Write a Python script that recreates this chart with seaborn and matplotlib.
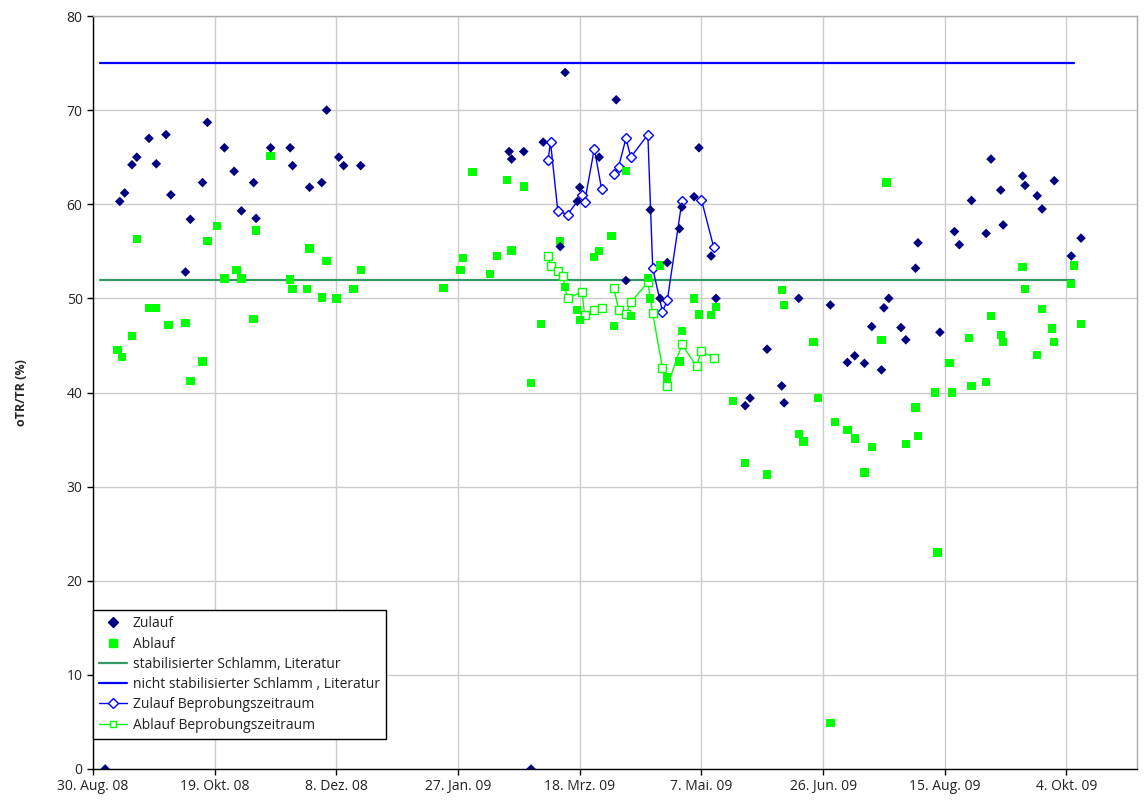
import numpy as np
import pandas as pd
import matplotlib
matplotlib.use("Agg")
import matplotlib.pyplot as plt
import seaborn as sns
from matplotlib.lines import Line2D

# Zulauf (Einzelwerte)
zulauf_dates = [
    "2008-09-04", "2008-09-10", "2008-09-12", "2008-09-15", "2008-09-17", "2008-09-22",
    "2008-09-25", "2008-09-29", "2008-10-01", "2008-10-07", "2008-10-09", "2008-10-14",
    "2008-10-16", "2008-10-23", "2008-10-27", "2008-10-30", "2008-11-04", "2008-11-05",
    "2008-11-11", "2008-11-19", "2008-11-20", "2008-11-27", "2008-12-02", "2008-12-04",
    "2008-12-09", "2008-12-11", "2008-12-18", "2009-02-17", "2009-02-18", "2009-02-23",
    "2009-02-26", "2009-03-03", "2009-03-10", "2009-03-12", "2009-03-17", "2009-03-18",
    "2009-03-26", "2009-04-02", "2009-04-06", "2009-04-16", "2009-04-20", "2009-04-23",
    "2009-04-28", "2009-04-29", "2009-05-04", "2009-05-06", "2009-05-11", "2009-05-13",
    "2009-05-25", "2009-05-27", "2009-06-03", "2009-06-09", "2009-06-10", "2009-06-16",
    "2009-06-29", "2009-07-06", "2009-07-09", "2009-07-13", "2009-07-16", "2009-07-20",
    "2009-07-21", "2009-07-23", "2009-07-28", "2009-07-30", "2009-08-03", "2009-08-04",
    "2009-08-13", "2009-08-19", "2009-08-21", "2009-08-26", "2009-09-01", "2009-09-03",
    "2009-09-07", "2009-09-08", "2009-09-16", "2009-09-17", "2009-09-22", "2009-09-24",
    "2009-09-29", "2009-10-06", "2009-10-10",
]
zulauf_values = [
    0.0, 60.3, 61.2, 64.2, 65.0, 67.0,
    64.3, 67.4, 61.0, 52.8, 58.4, 62.3,
    68.7, 66.0, 63.5, 59.3, 62.3, 58.5,
    66.0, 66.0, 64.1, 61.8, 62.3, 70.0,
    65.0, 64.1, 64.1, 65.6, 64.8, 65.6,
    0.0, 66.6, 55.5, 74.0, 60.3, 61.8,
    65.0, 71.1, 51.9, 59.4, 50.0, 53.8,
    57.4, 59.7, 60.8, 66.0, 54.5, 50.0,
    38.6, 39.4, 44.6, 40.7, 38.9, 50.0,
    49.3, 43.2, 43.9, 43.1, 47.0, 42.4,
    49.0, 50.0, 46.9, 45.6, 53.2, 55.9,
    46.4, 57.1, 55.7, 60.4, 56.9, 64.8,
    61.5, 57.8, 63.0, 62.0, 60.9, 59.5,
    62.5, 54.5, 56.4,
]

# Ablauf (Einzelwerte)
ablauf_dates = [
    "2008-09-09", "2008-09-11", "2008-09-15", "2008-09-17", "2008-09-22", "2008-09-25",
    "2008-09-30", "2008-10-07", "2008-10-09", "2008-10-14", "2008-10-16", "2008-10-20",
    "2008-10-23", "2008-10-28", "2008-10-30", "2008-11-04", "2008-11-05", "2008-11-11",
    "2008-11-19", "2008-11-20", "2008-11-26", "2008-11-27", "2008-12-02", "2008-12-04",
    "2008-12-08", "2008-12-15", "2008-12-18", "2009-01-21", "2009-01-28", "2009-01-29",
    "2009-02-02", "2009-02-09", "2009-02-12", "2009-02-16", "2009-02-18", "2009-02-23",
    "2009-02-26", "2009-03-02", "2009-03-10", "2009-03-12", "2009-03-17", "2009-03-18",
    "2009-03-24", "2009-03-26", "2009-03-31", "2009-04-01", "2009-04-06", "2009-04-08",
    "2009-04-15", "2009-04-16", "2009-04-20", "2009-04-23", "2009-04-28", "2009-04-29",
    "2009-05-04", "2009-05-06", "2009-05-11", "2009-05-13", "2009-05-20", "2009-05-25",
    "2009-06-03", "2009-06-09", "2009-06-10", "2009-06-16", "2009-06-18", "2009-06-22",
    "2009-06-24", "2009-06-29", "2009-07-01", "2009-07-06", "2009-07-09", "2009-07-13",
    "2009-07-16", "2009-07-20", "2009-07-22", "2009-07-30", "2009-08-03", "2009-08-04",
    "2009-08-11", "2009-08-12", "2009-08-17", "2009-08-18", "2009-08-25", "2009-08-26",
    "2009-09-01", "2009-09-03", "2009-09-07", "2009-09-08", "2009-09-16", "2009-09-17",
    "2009-09-22", "2009-09-24", "2009-09-28", "2009-09-29", "2009-10-06", "2009-10-07",
    "2009-10-10",
]
ablauf_values = [
    44.5, 43.8, 46.0, 56.3, 49.0, 49.0,
    47.2, 47.4, 41.2, 43.3, 56.1, 57.7,
    52.1, 53.0, 52.1, 47.8, 57.2, 65.1,
    52.0, 51.0, 51.0, 55.3, 50.1, 54.0,
    50.0, 51.0, 53.0, 51.1, 53.0, 54.3,
    63.4, 52.6, 54.5, 62.6, 55.1, 61.9,
    41.0, 47.3, 56.1, 51.2, 48.8, 47.7,
    54.4, 55.0, 56.6, 47.1, 63.5, 48.1,
    52.2, 50.0, 53.5, 41.6, 43.3, 46.5,
    50.0, 48.3, 48.2, 49.1, 39.1, 32.5,
    31.3, 50.9, 49.3, 35.6, 34.8, 45.4,
    39.4, 4.9, 36.9, 36.0, 35.1, 31.5,
    34.2, 45.6, 62.3, 34.5, 38.4, 35.4,
    40.0, 23.0, 43.1, 40.0, 45.8, 40.7,
    41.1, 48.1, 46.1, 45.4, 53.3, 51.0,
    44.0, 48.9, 46.8, 45.4, 51.5, 53.5,
    47.3,
]

# Beprobungszeitraum (None = Lücke in der Linie)
zb_dates = [
    "2009-03-05", "2009-03-06", "2009-03-09", "2009-03-13", "2009-03-19", "2009-03-20",
    "2009-03-24", "2009-03-27", "2009-03-30", "2009-04-01", "2009-04-03", "2009-04-06",
    "2009-04-08", "2009-04-15", "2009-04-17", "2009-04-21", "2009-04-23", "2009-04-29",
    "2009-05-05", "2009-05-07", "2009-05-12",
]
zb_values = [
    64.7, 66.6, 59.3, 58.9, 61.0, 60.2,
    65.9, 61.6, None, 63.2, 64.0, 67.0,
    65.0, 67.4, 53.2, 48.6, 49.8, 60.3,
    None, 60.5, 55.5,
]
ab_dates = [
    "2009-03-05", "2009-03-06", "2009-03-09", "2009-03-11", "2009-03-13", "2009-03-19",
    "2009-03-20", "2009-03-24", "2009-03-27", "2009-03-30", "2009-04-01", "2009-04-03",
    "2009-04-06", "2009-04-08", "2009-04-15", "2009-04-17", "2009-04-21", "2009-04-23",
    "2009-04-29", "2009-05-05", "2009-05-07", "2009-05-12",
]
ab_values = [
    54.5, 53.4, 52.9, 52.4, 50.0, 50.7,
    48.2, 48.8, 49.0, None, 51.1, 48.8,
    48.3, 49.6, 51.7, 48.4, 42.6, 40.7,
    45.1, 42.8, 44.4, 43.7,
]

# Literaturwerte
ref_dates = ["2008-09-02", "2009-10-07"]
stab_value = 52
nicht_stab_value = 75

tick_dates = ["2008-08-30", "2008-10-19", "2008-12-08", "2009-01-27", "2009-03-18",
              "2009-05-07", "2009-06-26", "2009-08-15", "2009-10-04"]
tick_labels = ["30. Aug. 08", "19. Okt. 08", "8. Dez. 08", "27. Jan. 09", "18. Mrz. 09",
               "7. Mai. 09", "26. Jun. 09", "15. Aug. 09", "4. Okt. 09"]


def segments(dates, values):
    df = pd.DataFrame({"date": pd.to_datetime(dates),
                       "value": pd.to_numeric(pd.Series(values, dtype="object"))})
    df["seg"] = df["value"].isna().cumsum()
    return df.dropna()


sns.set_style("white")
plt.rcParams["font.family"] = ["Open Sans", "DejaVu Sans"]

fig = plt.figure(figsize=(11.44, 8.01), dpi=100)
ax = fig.add_axes([93 / 1144, 32 / 801, 1044 / 1144, 753 / 801])

ref_x = pd.to_datetime(ref_dates)
sns.lineplot(x=ref_x, y=[stab_value] * 2, color="#339966", lw=1.6, ax=ax)
sns.lineplot(x=ref_x, y=[nicht_stab_value] * 2, color="#0000FF", lw=1.6, ax=ax)

zb = segments(zb_dates, zb_values)
ab = segments(ab_dates, ab_values)
sns.lineplot(data=zb, x="date", y="value", units="seg", estimator=None, color="#0000FF",
             lw=1, marker="D", markersize=5, markerfacecolor="white",
             markeredgecolor="#0000FF", markeredgewidth=1, ax=ax)
sns.lineplot(data=ab, x="date", y="value", units="seg", estimator=None, color="#00FF00",
             lw=1, marker="s", markersize=6, markerfacecolor="white",
             markeredgecolor="#00FF00", markeredgewidth=1, ax=ax)

sns.scatterplot(x=pd.to_datetime(ablauf_dates), y=ablauf_values, marker="s", s=36,
                color="#00FF00", edgecolor="none", ax=ax, zorder=3)
sns.scatterplot(x=pd.to_datetime(zulauf_dates), y=zulauf_values, marker="D", s=24,
                color="#000080", edgecolor="none", ax=ax, zorder=4)

ax.set_xlim(pd.Timestamp("2008-08-30"), pd.Timestamp("2009-11-02"))
ax.set_ylim(0, 80)
ax.set_yticks(range(0, 81, 10))
ax.set_xticks(pd.to_datetime(tick_dates))
ax.set_xticklabels(tick_labels)
ax.tick_params(axis="both", direction="out", length=4, width=1, color="black",
               labelsize=10, labelcolor="#222222", bottom=True, left=True)
ax.grid(True, color="#cccccc", lw=1)
ax.set_axisbelow(True)
for side in ["left", "bottom"]:
    ax.spines[side].set_color("black")
    ax.spines[side].set_linewidth(1)
for side in ["top", "right"]:
    ax.spines[side].set_color("#aaaaaa")
    ax.spines[side].set_linewidth(1)

ax.set_xlabel("")
ax.set_ylabel("oTR/TR (%)", fontsize=9, fontweight="bold", labelpad=28)

handles = [
    Line2D([], [], ls="none", marker="D", markersize=5, color="#000080"),
    Line2D([], [], ls="none", marker="s", markersize=6, color="#00FF00"),
    Line2D([], [], color="#339966", lw=1.6),
    Line2D([], [], color="#0000FF", lw=1.6),
    Line2D([], [], color="#0000FF", lw=1, marker="D", markersize=5,
           markerfacecolor="white", markeredgecolor="#0000FF"),
    Line2D([], [], color="#00FF00", lw=1, marker="s", markersize=5,
           markerfacecolor="white", markeredgecolor="#00FF00"),
]
labels = ["Zulauf", "Ablauf", "stabilisierter Schlamm, Literatur",
          "nicht stabilisierter Schlamm , Literatur", "Zulauf Beprobungszeitraum",
          "Ablauf Beprobungszeitraum"]
leg = ax.legend(handles, labels, loc="lower left", bbox_to_anchor=(0, 0.04),
                fontsize=10, frameon=True, fancybox=False, framealpha=1,
                edgecolor="black", borderpad=0.45, labelspacing=0.38,
                handlelength=2, handletextpad=0.4, borderaxespad=0)
leg.get_frame().set_linewidth(1)
for t in leg.get_texts():
    t.set_color("#222222")

plt.savefig("out.png", dpi=100)
